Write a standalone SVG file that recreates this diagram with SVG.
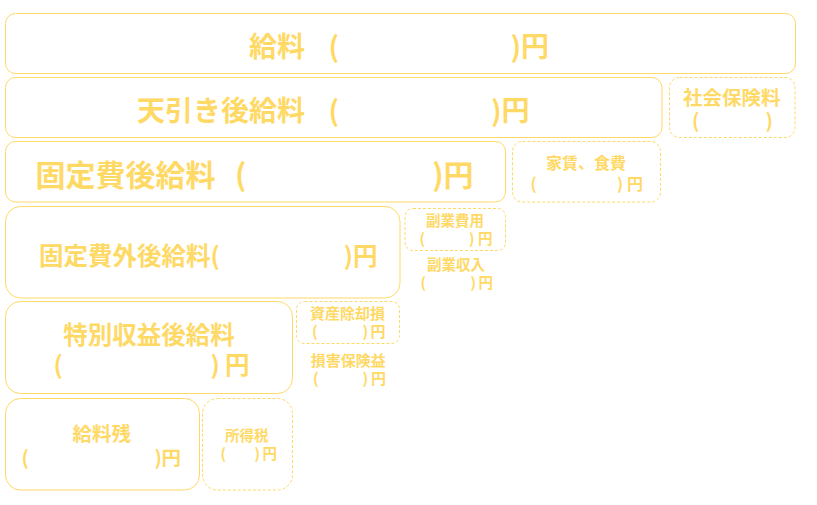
<svg xmlns="http://www.w3.org/2000/svg" width="817" height="505" viewBox="0 0 817 505">
<style>
.b{fill:none;stroke:#FFD966;stroke-width:1}
.d{fill:none;stroke:#FFD966;stroke-width:1;stroke-dasharray:3 2}
text{fill:#FFD966;font-family:"Noto Sans CJK JP","Noto Sans CJK SC",sans-serif;font-weight:bold}
.m{text-anchor:middle}
.e{text-anchor:end}
.f28{font-size:28px}.f30{font-size:30px}.f24{font-size:24.5px}.f19{font-size:19.5px}.f16{font-size:16px}.f15{font-size:15px}.f14{font-size:14.5px}
</style>
<rect width="817" height="505" fill="#FFFFFF"/>
<g id="kyuryo">
<rect class="b" x="5.5" y="13.5" width="790" height="60" rx="10"/>
<text class="f28" x="249" y="56.5">給料</text>
<text class="f28" x="328.5" y="56.5">(</text>
<text class="f28 e" x="549" y="56.5">)円</text>
</g>
<g id="tenbiki">
<rect class="b" x="5.5" y="77.5" width="656.5" height="60" rx="10"/>
<text class="f28" x="137" y="121">天引き後給料</text>
<text class="f28" x="328.5" y="121">(</text>
<text class="f28 e" x="529.5" y="121">)円</text>
</g>
<g id="shakaihoken">
<rect class="d" x="669.5" y="77.5" width="125.5" height="60" rx="10"/>
<text class="f19 m" x="731.7" y="105">社会保険料</text>
<text class="f19" x="692" y="128">(<tspan x="765.5">)</tspan></text>
</g>
<g id="koteihi">
<rect class="b" x="5.5" y="141.5" width="500" height="60.5" rx="10"/>
<text class="f30" x="35.5" y="186">固定費後給料</text>
<text class="f30" x="235" y="186">(</text>
<text class="f30 e" x="473.5" y="186">)円</text>
</g>
<g id="yachin">
<rect class="d" x="512.5" y="141.5" width="148" height="60.5" rx="10"/>
<text class="f16 m" x="586" y="168.7">家賃、食費</text>
<text class="f16" x="530.5" y="189.5">(<tspan x="617">)</tspan><tspan x="627">円</tspan></text>
</g>
<g id="koteihigai">
<rect class="b" x="5.5" y="206.5" width="394.5" height="91.5" rx="15"/>
<text class="f24" x="39" y="265">固定費外後給料(</text>
<text class="f24 e" x="377.5" y="265">)円</text>
</g>
<g id="fukugyohiyo">
<rect class="d" x="405" y="208.5" width="100.5" height="42" rx="8"/>
<text class="f14 m" x="455" y="225.5">副業費用</text>
<text class="f14" x="419.5" y="244">(<tspan x="469">)</tspan><tspan x="478">円</tspan></text>
</g>
<g id="fukugyoshunyu">
<text class="f14 m" x="456" y="270">副業収入</text>
<text class="f14" x="420.5" y="288">(<tspan x="470.5">)</tspan><tspan x="478.5">円</tspan></text>
</g>
<g id="tokubetsu">
<rect class="b" x="5.5" y="301.5" width="287" height="92" rx="15"/>
<text class="f24 m" x="149" y="343.5">特別収益後給料</text>
<text class="f24" x="53.5" y="373.5">(<tspan x="210.5">)</tspan><tspan x="225">円</tspan></text>
</g>
<g id="shisanjokyaku">
<rect class="d" x="296.5" y="301.5" width="103" height="42" rx="8"/>
<text class="f15 m" x="347.5" y="319">資産除却損</text>
<text class="f15" x="312" y="337">(<tspan x="362.5">)</tspan><tspan x="370.5">円</tspan></text>
</g>
<g id="songaihoken">
<text class="f15 m" x="348.3" y="366">損害保険益</text>
<text class="f15" x="313" y="384">(<tspan x="362.5">)</tspan><tspan x="371">円</tspan></text>
</g>
<g id="kyuryozan">
<rect class="b" x="5.5" y="398.5" width="194" height="91.5" rx="15"/>
<text class="f19 m" x="101.7" y="441">給料残</text>
<text class="f19" x="21.5" y="465">(<tspan x="154.5">)</tspan><tspan x="161.5">円</tspan></text>
</g>
<g id="shotokuzei">
<rect class="d" x="202.5" y="398.5" width="90" height="91.5" rx="15"/>
<text class="f14 m" x="246.7" y="440.5">所得税</text>
<text class="f14" x="220.5" y="459">(<tspan x="254.5">)</tspan><tspan x="262.5">円</tspan></text>
</g>
<g id="connectors"/>
</svg>
